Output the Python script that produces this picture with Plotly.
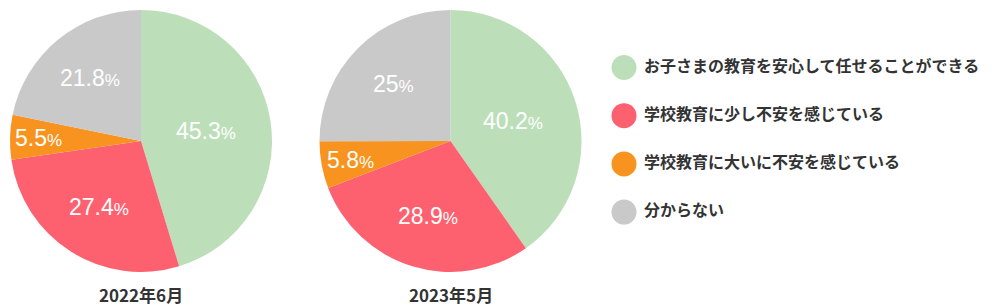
import math
import plotly.graph_objects as go

# ---- data ----
categories = [
    "お子さまの教育を安心して任せることができる",
    "学校教育に少し不安を感じている",
    "学校教育に大いに不安を感じている",
    "分からない",
]
values_2022 = [45.3, 27.4, 5.5, 21.8]
values_2023 = [40.2, 28.9, 5.8, 25]
titles = ["2022年6月", "2023年5月"]
colors = ["#bcdfba", "#fd6170", "#f7931e", "#c9c9c9"]

# ---- style ----
W, H = 1000, 306
FONT = "Noto Sans CJK JP"
NUM_FONT = "Liberation Sans"
TEXT_COLOR = "#333333"
label_radius = [0.50, 0.60, 0.78, 0.62]  # fraction of radius where slice labels sit
pies = [
    dict(values=values_2022, cx=141.0, cy=141.0, r=131.0, title=titles[0]),
    dict(values=values_2023, cx=450.5, cy=141.0, r=131.0, title=titles[1]),
]

fig = go.Figure()
annotations = []

for p in pies:
    cx, cy, r = p["cx"], p["cy"], p["r"]
    fig.add_trace(go.Pie(
        labels=categories,
        values=p["values"],
        marker=dict(colors=colors, line=dict(width=0)),
        sort=False,
        direction="clockwise",
        rotation=0,
        textinfo="none",
        hoverinfo="label+percent",
        showlegend=False,
        domain=dict(x=[(cx - r) / W, (cx + r) / W],
                    y=[1 - (cy + r) / H, 1 - (cy - r) / H]),
    ))
    total = sum(p["values"])
    cum = 0.0
    for i, v in enumerate(p["values"]):
        mid = (cum + v / 2) / total * 2 * math.pi
        cum += v
        px = cx + label_radius[i] * r * math.sin(mid)
        py = cy - label_radius[i] * r * math.cos(mid)
        annotations.append(dict(
            x=px / W, y=1 - py / H, xref="paper", yref="paper",
            text=f"{v:g}<span style='font-size:17px'>%</span>",
            showarrow=False, xanchor="center", yanchor="middle",
            font=dict(family=NUM_FONT, size=23, color="white"),
        ))
    annotations.append(dict(
        x=cx / W, y=1 - 294 / H, xref="paper", yref="paper",
        text=p["title"], showarrow=False, xanchor="center", yanchor="middle",
        font=dict(family=FONT, size=17, color=TEXT_COLOR, weight="bold"),
    ))

# ---- custom legend (circle markers) on hidden axes ----
leg_y = [67.5 + 48.2 * i for i in range(len(categories))]
fig.add_trace(go.Scatter(
    x=[24] * len(categories), y=leg_y, mode="markers",
    marker=dict(size=25, color=colors, line=dict(width=0)),
    hoverinfo="skip", showlegend=False,
))
fig.add_trace(go.Scatter(
    x=[44] * len(categories), y=leg_y, mode="text",
    text=categories, textposition="middle right",
    textfont=dict(family=FONT, size=16, color=TEXT_COLOR, weight="bold"),
    hoverinfo="skip", showlegend=False,
))

fig.update_layout(
    width=W, height=H,
    margin=dict(l=0, r=0, t=0, b=0),
    paper_bgcolor="white", plot_bgcolor="rgba(0,0,0,0)",
    xaxis=dict(domain=[0.6, 1.0], range=[0, 400], visible=False, fixedrange=True),
    yaxis=dict(domain=[0, 1], range=[H, 0], visible=False, fixedrange=True),
    annotations=annotations,
    showlegend=False,
)

fig.write_html("out.html")
